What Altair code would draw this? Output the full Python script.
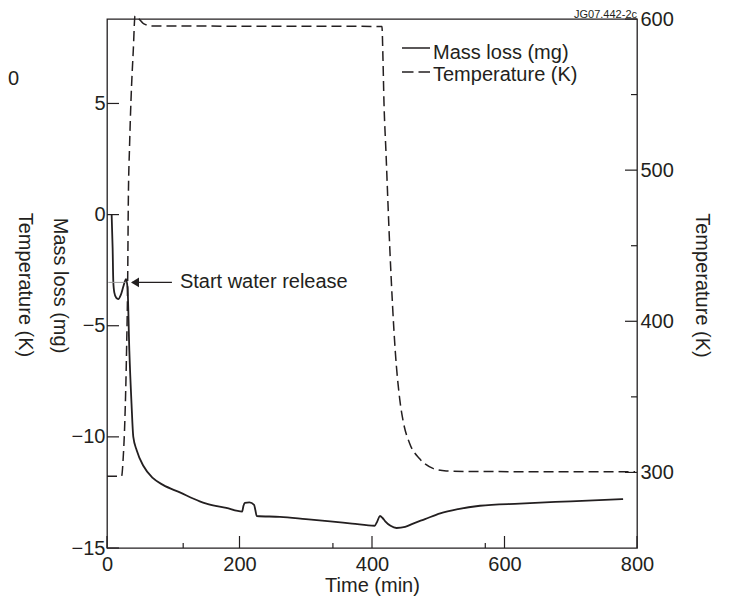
import altair as alt
import pandas as pd

# ---- data ----
time_mass = [7, 8.5, 9.5, 11, 14, 17, 21, 25, 28.7, 31, 33.7, 37, 39.7, 44.8, 54.8, 69, 84.5,
             110, 140, 150, 180, 204, 206, 208, 215, 222, 224, 226, 261, 300, 337, 370, 404,
             408, 412, 416, 420, 428, 437, 450, 462, 480, 503, 530, 563, 623, 700, 779]
mass_loss = [0, -1.5, -3.0, -3.5, -3.75, -3.8, -3.6, -3.2, -2.9, -3.3, -6.1, -8.5, -10.0, -10.6,
             -11.3, -11.85, -12.16, -12.5, -12.9, -13.0, -13.2, -13.36, -13.1, -12.97, -12.95,
             -13.06, -13.3, -13.56, -13.6, -13.7, -13.8, -13.9, -14.0, -13.8, -13.56, -13.65,
             -13.8, -14.0, -14.1, -14.05, -13.9, -13.7, -13.44, -13.25, -13.1, -13.0, -12.9, -12.8]

time_temp = [0, 22, 24.5, 27, 29.5, 31.2, 32.2, 34, 36.2, 39.7, 42.3, 46.8, 55, 67.5, 150, 250,
             350, 415, 416.6, 418, 421, 427, 435, 442, 447, 457, 472, 492, 512, 550, 650, 797]
temperature = [297.5, 297.5, 310, 335, 380, 427, 480, 515, 546, 579.5, 602, 600.7, 597, 595.4,
               595.3, 595.2, 595.2, 595, 573, 546, 513, 447, 381, 348, 334, 319, 309, 302.7,
               301, 300.6, 300.5, 300.5]

x_major = [0, 200, 400, 600, 800]
x_minor = [115, 341, 571]
mass_ticks = [-15, -10, -5, 0, 5]
temp_major = [300, 400, 500, 600]
temp_minor = [350, 450, 550]

legend_labels = ["Mass loss (mg)", "Temperature (K)"]
annotation_text = ["Start water release"]
annotation_at = [-3.05]          # mass level of the arrow
annotation_time = [110]          # where the text starts
arrow_from = [38]
arrow_to = [98]
arrow_tip = [42.3]
figure_id = ["JG07.442-2c"]

# ---- styling ----
W, H = 530, 529
FONT = "Liberation Sans"
INK = "#231f20"
FS = 20

x_scale = alt.Scale(domain=[0, 800], nice=False, zero=False)
m_scale = alt.Scale(domain=[-15, 8.8], nice=False, zero=False)
t_scale = alt.Scale(domain=[250, 600], nice=False, zero=False)

mass_df = pd.DataFrame({"t": time_mass, "m": mass_loss})
temp_df = pd.DataFrame({"t": time_temp, "T": temperature})

x_axis = alt.Axis(values=x_major, title="Time (min)", labelPadding=6, labelFlush=False,
                  labelOverlap=False, titleY=43, titleBaseline="alphabetic")
m_axis = alt.Axis(values=mass_ticks, title="Mass loss (mg)", labelPadding=2,
                  labelFlush=False, labelOverlap=False, titleAngle=90,
                  titleX=-48, titleY=266, titleAlign="center", titleBaseline="middle")
t_axis = alt.Axis(orient="right", values=temp_major, title="Temperature (K)",
                  labelPadding=3, labelFlush=False, labelOverlap=False, titleAngle=90,
                  titleX=64, titleY=266, titleAlign="center", titleBaseline="middle")


def X(field):
    return alt.X(field, scale=x_scale, axis=x_axis)


def YM(field):
    return alt.Y(field, scale=m_scale, axis=m_axis)


def YT(field):
    return alt.Y(field, scale=t_scale, axis=t_axis)


mass_line = alt.Chart(mass_df).mark_line(color=INK, strokeWidth=1.8, interpolate="monotone").encode(
    x=X("t:Q"), y=YM("m:Q"))

temp_line = alt.Chart(temp_df).mark_line(color=INK, strokeWidth=1.5, strokeDash=[10, 5],
                                         interpolate="monotone").encode(
    x=X("t:Q"), y=YT("T:Q"))

# inward ticks
left_ticks = alt.Chart(pd.DataFrame({"v": mass_ticks})).mark_rule(color=INK, strokeWidth=1.2).encode(
    y=YM("v:Q"), x=alt.value(0), x2=alt.value(12))
right_major = alt.Chart(pd.DataFrame({"v": temp_major})).mark_rule(color=INK, strokeWidth=1.2).encode(
    y=YT("v:Q"), x=alt.value(W - 12), x2=alt.value(W))
right_minor = alt.Chart(pd.DataFrame({"v": temp_minor})).mark_rule(color=INK, strokeWidth=1.2).encode(
    y=YT("v:Q"), x=alt.value(W - 6), x2=alt.value(W))
bottom_major = alt.Chart(pd.DataFrame({"v": x_major})).mark_rule(color=INK, strokeWidth=1.2).encode(
    x=X("v:Q"), y=alt.value(H - 12), y2=alt.value(H))
bottom_minor = alt.Chart(pd.DataFrame({"v": x_minor})).mark_rule(color=INK, strokeWidth=1.2).encode(
    x=X("v:Q"), y=alt.value(H - 5), y2=alt.value(H))

# annotation
ann_df = pd.DataFrame({"label": annotation_text, "t": annotation_time, "m": annotation_at,
                       "a0": arrow_from, "a1": arrow_to, "tip": arrow_tip})
ann_text = alt.Chart(ann_df).mark_text(align="left", baseline="middle", fontSize=FS, color=INK,
                                       font=FONT).encode(
    x=X("t:Q"), y=YM("m:Q"), text="label:N")
ann_rule = alt.Chart(ann_df).mark_rule(color=INK, strokeWidth=1.3).encode(
    x=X("a0:Q"), x2="a1:Q", y=YM("m:Q"))
ann_back = alt.Chart(pd.DataFrame({"a0": [2], "a1": [29], "m": annotation_at})).mark_rule(
    color="#999999", strokeWidth=1).encode(
    x=X("a0:Q"), x2="a1:Q", y=YM("m:Q"))
ann_head = alt.Chart(ann_df).mark_point(shape="M -1 0 L 1 -1.2 L 1 1.2 Z", filled=True, size=64,
                                        color=INK, opacity=1).encode(
    x=X("tip:Q"), y=YM("m:Q"))

# legend (drawn by hand)
leg_solid = alt.Chart(pd.DataFrame({"label": legend_labels[:1]})).mark_rule(
    color=INK, strokeWidth=1.5).encode(x=alt.value(295), x2=alt.value(323), y=alt.value(29))
leg_dash = alt.Chart(pd.DataFrame({"label": legend_labels[1:]})).mark_rule(
    color=INK, strokeWidth=1.5, strokeDash=[11.5, 5]).encode(
    x=alt.value(295), x2=alt.value(323), y=alt.value(53))
leg_t1 = alt.Chart(pd.DataFrame({"label": legend_labels[:1]})).mark_text(
    align="left", baseline="alphabetic", fontSize=FS, color=INK, font=FONT).encode(
    x=alt.value(326), y=alt.value(40), text="label:N")
leg_t2 = alt.Chart(pd.DataFrame({"label": legend_labels[1:]})).mark_text(
    align="left", baseline="alphabetic", fontSize=FS, color=INK, font=FONT).encode(
    x=alt.value(326), y=alt.value(62), text="label:N")

# stray texts of the original figure
fig_id = alt.Chart(pd.DataFrame({"label": figure_id})).mark_text(
    align="right", baseline="alphabetic", fontSize=11, color=INK, font=FONT).encode(
    x=alt.value(W), y=alt.value(-1), text="label:N")
left_temp = alt.Chart(pd.DataFrame({"label": ["Temperature (K)"]})).mark_text(
    align="center", baseline="middle", angle=90, fontSize=FS, color=INK, font=FONT).encode(
    x=alt.value(-82), y=alt.value(266), text="label:N")
left_zero = alt.Chart(pd.DataFrame({"label": ["0"]})).mark_text(
    align="left", baseline="middle", fontSize=FS, color=INK, font=FONT).encode(
    x=alt.value(-99), y=alt.value(60), text="label:N")

left = alt.layer(mass_line, left_ticks, bottom_major, bottom_minor, ann_back, ann_rule, ann_head,
                 ann_text, leg_solid, leg_dash, leg_t1, leg_t2, fig_id, left_temp, left_zero)
right = alt.layer(temp_line, right_major, right_minor)

chart = alt.layer(left, right).resolve_scale(y="independent").properties(
    width=W, height=H,
    autosize=alt.AutoSizeParams(type="none"),
    padding={"left": 99, "top": 11, "right": 76, "bottom": 48},
).configure_axis(
    labelFont=FONT, titleFont=FONT, labelColor=INK, titleColor=INK,
    labelFontSize=FS, titleFontSize=FS, titleFontWeight="normal",
    grid=False, domain=False, ticks=False,
).configure_view(stroke=INK, strokeWidth=1.3).configure_text(font=FONT)

chart.save("out.html", embed_options={"renderer": "svg", "actions": False})
